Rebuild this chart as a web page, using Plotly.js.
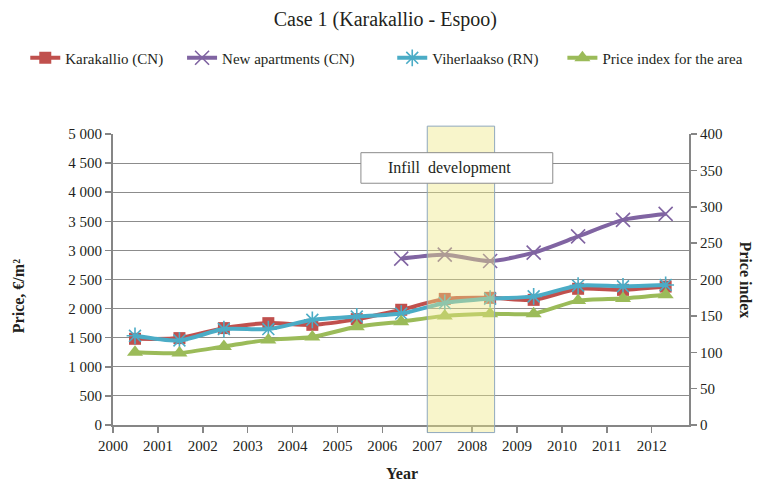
<!DOCTYPE html>
<html>
<head>
<meta charset="utf-8">
<script src="https://cdn.plot.ly/plotly-3.0.1.min.js"></script>
<style>html,body{margin:0;padding:0;background:#fff;}#chart{width:760px;height:484px;}</style>
</head>
<body>
<div id="chart"></div>
<script>
// ---- data ----
const years = [2000.49, 2001.48, 2002.47, 2003.46, 2004.44, 2005.43, 2006.42, 2007.39, 2008.40, 2009.37, 2010.36, 2011.36, 2012.31];
const karakallio = [1481, 1493, 1665, 1750, 1721, 1819, 1980, 2167, 2185, 2150, 2340, 2322, 2378];
const newApartments = [null, null, null, null, null, null, 2858, 2927, 2817, 2961, 3240, 3525, 3627];
const viherlaakso = [1533, 1452, 1648, 1648, 1807, 1864, 1915, 2096, 2170, 2210, 2394, 2383, 2406];
const priceIndex = [100, 99, 108, 117, 121, 135, 142, 150, 153, 153, 171, 174, 179];
const seriesNames = ["Karakallio (CN)", "New apartments (CN)", "Viherlaakso (RN)", "Price index for the area"];
const yearTicks = [2000, 2001, 2002, 2003, 2004, 2005, 2006, 2007, 2008, 2009, 2010, 2011, 2012];
const infillStart = 2007, infillEnd = 2008.5;
const infillLabel = "Infill\u00A0 development";

const FONT = "Liberation Serif, Times New Roman, serif";
const TXT = "#231f20";
const GRID = "#8c8c8c";
const AX = "#868686";

const line = (c) => ({color: c, width: 4, shape: "spline", smoothing: 0.7});

const traces = [
  {x: years, y: karakallio, name: seriesNames[0], type: "scatter", mode: "lines+markers",
   line: line("#C0504D"), marker: {symbol: "square", size: 12, color: "#C0504D"}, legend: "legend"},
  {x: years, y: newApartments, name: seriesNames[1], type: "scatter", mode: "lines+markers",
   line: line("#8064A2"), marker: {symbol: "x-thin-open", size: 14, color: "#8064A2", line: {width: 1.6, color: "#8064A2"}}, legend: "legend2"},
  {x: years, y: viherlaakso, name: seriesNames[2], type: "scatter", mode: "lines+markers",
   line: line("#4BACC6"), marker: {symbol: "asterisk-open", size: 14, color: "#4BACC6", line: {width: 1.6, color: "#4BACC6"}}, legend: "legend3"},
  {x: years, y: priceIndex, name: seriesNames[3], type: "scatter", mode: "lines+markers", yaxis: "y2",
   line: line("#9BBB59"), marker: {symbol: "triangle-up", size: 14, color: "#9BBB59"}, legend: "legend4"}
];

const legBase = (x) => ({orientation: "h", x: x, xanchor: "left", y: 1.261, yanchor: "middle",
  font: {family: FONT, size: 15, color: TXT}, bgcolor: "rgba(0,0,0,0)", borderwidth: 0});

const layout = {
  width: 760, height: 484,
  margin: {l: 112.7, r: 65, t: 134, b: 58.7},
  paper_bgcolor: "#fff", plot_bgcolor: "#fff",
  separators: ". ",
  font: {family: FONT, size: 15, color: TXT},
  title: {text: "Case 1 (Karakallio - Espoo)", font: {family: FONT, size: 20, color: TXT},
          x: 0.507, xanchor: "center", y: 0.96, yanchor: "middle"},
  showlegend: true,
  legend: legBase(-0.1523),
  legend2: legBase(0.1199),
  legend3: legBase(0.4848),
  legend4: legBase(0.7802),
  xaxis: {range: [2000, 2012.83], tickvals: yearTicks, ticktext: yearTicks.map(String),
          showgrid: false, zeroline: false, showline: true, linecolor: AX, linewidth: 2,
          ticks: "outside", ticklen: 6, tickcolor: AX, tickwidth: 1.5,
          tickfont: {family: FONT, size: 15, color: TXT}, fixedrange: true},
  yaxis: {range: [0, 5000], dtick: 500, tick0: 0, separatethousands: true,
          showgrid: true, gridcolor: GRID, gridwidth: 1, zeroline: false,
          showline: true, linecolor: AX, linewidth: 2,
          ticks: "outside", ticklen: 6, tickcolor: AX, tickwidth: 1.5,
          tickfont: {family: FONT, size: 15, color: TXT}},
  yaxis2: {range: [0, 400], dtick: 50, tick0: 0, overlaying: "y", side: "right",
           showgrid: false, zeroline: false, showline: true, linecolor: AX, linewidth: 2,
           ticks: "outside", ticklen: 6, tickcolor: AX, tickwidth: 1.5,
           tickfont: {family: FONT, size: 15, color: TXT}},
  shapes: [
    {type: "rect", layer: "above", xref: "x", yref: "paper", x0: infillStart, x1: infillEnd, y0: -0.026, y1: 1.027,
     fillcolor: "rgba(238,230,130,0.42)", line: {color: "#8fa8bd", width: 1}},
    {type: "rect", layer: "above", xref: "paper", yref: "paper", x0: 0.4304, x1: 0.7635, y0: 0.8308, y1: 0.9358,
     fillcolor: "#ffffff", line: {color: "#8c8c8c", width: 1}}
  ],
  annotations: [
    {text: infillLabel, xref: "paper", yref: "paper", x: 0.4733, y: 0.8833, xanchor: "left", yanchor: "middle",
     showarrow: false, font: {family: FONT, size: 16, color: TXT}},
    {text: "<b>Price, €/m²</b>", xref: "paper", yref: "paper", x: (18 - 112.7) / 582.3, y: 1 - (296 - 134) / 291.3,
     xanchor: "center", yanchor: "middle", textangle: -90, showarrow: false, font: {family: FONT, size: 16, color: TXT}},
    {text: "<b>Price index</b>", xref: "paper", yref: "paper", x: (752 - 112.7) / 582.3, y: 1 - (280 - 134) / 291.3,
     xanchor: "center", yanchor: "middle", textangle: 90, showarrow: false, font: {family: FONT, size: 16, color: TXT}},
    {text: "<b>Year</b>", xref: "paper", yref: "paper", x: (405 - 112.7) / 582.3, y: -(474 - 425.3) / 291.3,
     xanchor: "center", yanchor: "middle", showarrow: false, font: {family: FONT, size: 16, color: TXT}}
  ]
};

Plotly.newPlot("chart", traces, layout, {displayModeBar: false, staticPlot: true});
</script>
</body>
</html>
